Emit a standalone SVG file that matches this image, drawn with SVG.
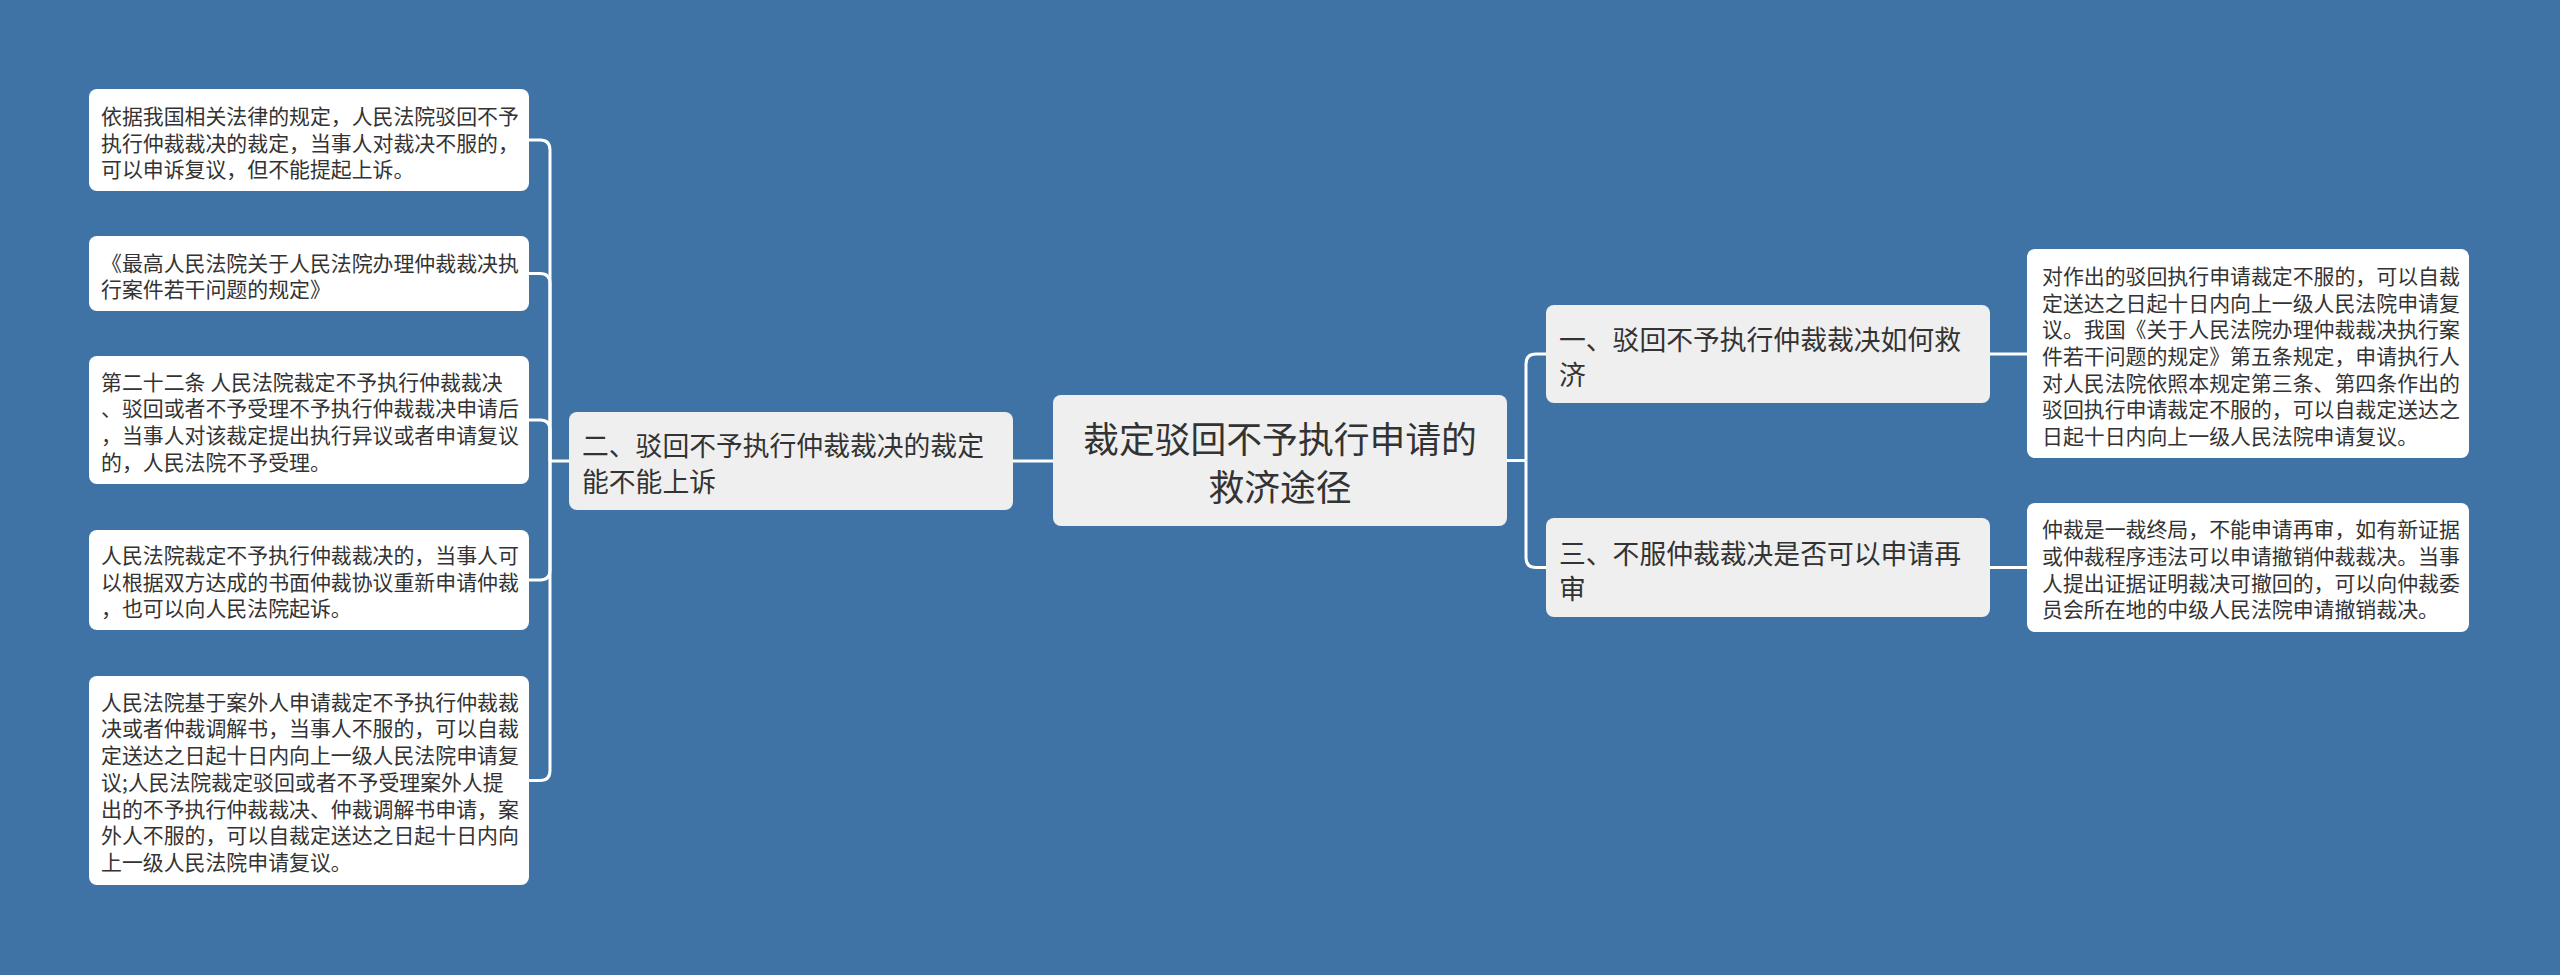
<svg xmlns="http://www.w3.org/2000/svg" width="2560" height="975" viewBox="0 0 2560 975">
<style>
text{font-family:"Noto Sans CJK SC","Noto Sans",sans-serif;fill:#333;dominant-baseline:central}
.leaf rect{fill:#ffffff}
.mid rect,.root rect{fill:#efefef}
.leaf text{font-size:20.9px}
.mid text{font-size:26.8px}
.root text{font-size:35.8px;text-anchor:middle}
.conn path{fill:none;stroke:#ffffff;stroke-width:3}
</style>
<rect x="0" y="0" width="2560" height="975" fill="#3f73a6"/>
<g class="conn" id="connectors">
<path d="M1053,461 H1013"/>
<path d="M569,461 H550"/>
<path d="M550,461 V150 Q550,140 540,140 H529"/>
<path d="M550,461 V283.5 Q550,273.5 540,273.5 H529"/>
<path d="M550,461 V430 Q550,420 540,420 H529"/>
<path d="M550,461 V570 Q550,580 540,580 H529"/>
<path d="M550,461 V770.5 Q550,780.5 540,780.5 H529"/>
<path d="M1507,460.5 H1526"/>
<path d="M1526,460.5 V364 Q1526,354 1536,354 H1546"/>
<path d="M1526,460.5 V557.5 Q1526,567.5 1536,567.5 H1546"/>
<path d="M1990,354 H2027"/>
<path d="M1990,567.5 H2027"/>
</g>
<g class="root" id="root">
<rect x="1053" y="395" width="454" height="131" rx="8"/>
<text x="1280" y="437">裁定驳回不予执行申请的</text>
<text x="1280" y="485">救济途径</text>
</g>
<g class="mid" id="n2">
<rect x="569" y="412" width="444" height="98" rx="8"/>
<text x="582" y="444">二、驳回不予执行仲裁裁决的裁定</text>
<text x="582" y="480">能不能上诉</text>
</g>
<g class="mid" id="n1">
<rect x="1546" y="305" width="444" height="98" rx="8"/>
<text x="1559" y="338">一、驳回不予执行仲裁裁决如何救</text>
<text x="1559" y="373">济</text>
</g>
<g class="mid" id="n3">
<rect x="1546" y="518" width="444" height="99" rx="8"/>
<text x="1559" y="552">三、不服仲裁裁决是否可以申请再</text>
<text x="1559" y="587">审</text>
</g>
<g class="leaf" id="l1">
<rect x="89" y="89" width="440" height="102" rx="8"/>
<text x="101" y="115">依据我国相关法律的规定，人民法院驳回不予</text>
<text x="101" y="142">执行仲裁裁决的裁定，当事人对裁决不服的，</text>
<text x="101" y="168">可以申诉复议，但不能提起上诉。</text>
</g>
<g class="leaf" id="l2">
<rect x="89" y="236" width="440" height="75" rx="8"/>
<text x="101" y="262">《最高人民法院关于人民法院办理仲裁裁决执</text>
<text x="101" y="288">行案件若干问题的规定》</text>
</g>
<g class="leaf" id="l3">
<rect x="89" y="356" width="440" height="128" rx="8"/>
<text x="101" y="381">第二十二条 人民法院裁定不予执行仲裁裁决</text>
<text x="101" y="407">、驳回或者不予受理不予执行仲裁裁决申请后</text>
<text x="101" y="434">，当事人对该裁定提出执行异议或者申请复议</text>
<text x="101" y="461">的，人民法院不予受理。</text>
</g>
<g class="leaf" id="l4">
<rect x="89" y="530" width="440" height="100" rx="8"/>
<text x="101" y="554">人民法院裁定不予执行仲裁裁决的，当事人可</text>
<text x="101" y="581">以根据双方达成的书面仲裁协议重新申请仲裁</text>
<text x="101" y="607">，也可以向人民法院起诉。</text>
</g>
<g class="leaf" id="l5">
<rect x="89" y="676" width="440" height="209" rx="8"/>
<text x="101" y="701">人民法院基于案外人申请裁定不予执行仲裁裁</text>
<text x="101" y="727">决或者仲裁调解书，当事人不服的，可以自裁</text>
<text x="101" y="754">定送达之日起十日内向上一级人民法院申请复</text>
<text x="101" y="781">议;人民法院裁定驳回或者不予受理案外人提</text>
<text x="101" y="808">出的不予执行仲裁裁决、仲裁调解书申请，案</text>
<text x="101" y="834">外人不服的，可以自裁定送达之日起十日内向</text>
<text x="101" y="861">上一级人民法院申请复议。</text>
</g>
<g class="leaf" id="r1">
<rect x="2027" y="249" width="442" height="209" rx="8"/>
<text x="2042" y="275">对作出的驳回执行申请裁定不服的，可以自裁</text>
<text x="2042" y="302">定送达之日起十日内向上一级人民法院申请复</text>
<text x="2042" y="328">议。我国《关于人民法院办理仲裁裁决执行案</text>
<text x="2042" y="355">件若干问题的规定》第五条规定，申请执行人</text>
<text x="2042" y="382">对人民法院依照本规定第三条、第四条作出的</text>
<text x="2042" y="408">驳回执行申请裁定不服的，可以自裁定送达之</text>
<text x="2042" y="435">日起十日内向上一级人民法院申请复议。</text>
</g>
<g class="leaf" id="r2">
<rect x="2027" y="503" width="442" height="129" rx="8"/>
<text x="2042" y="528">仲裁是一裁终局，不能申请再审，如有新证据</text>
<text x="2042" y="555">或仲裁程序违法可以申请撤销仲裁裁决。当事</text>
<text x="2042" y="582">人提出证据证明裁决可撤回的，可以向仲裁委</text>
<text x="2042" y="608">员会所在地的中级人民法院申请撤销裁决。</text>
</g>
</svg>
